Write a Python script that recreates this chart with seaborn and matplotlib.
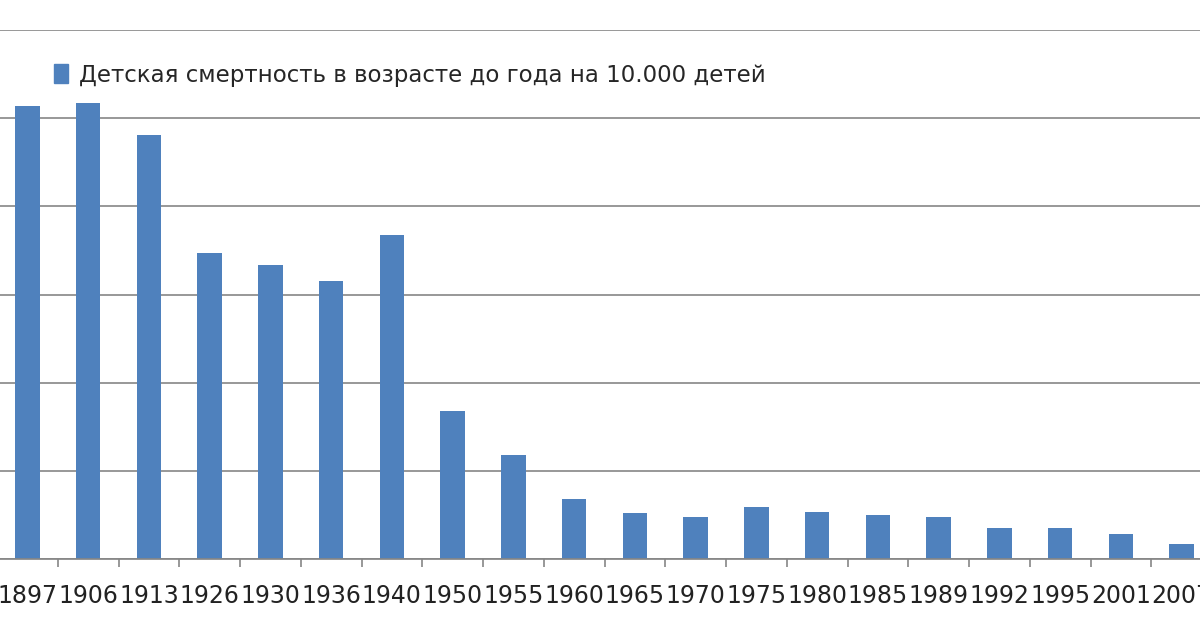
import matplotlib
matplotlib.use("Agg")
import matplotlib.pyplot as plt
import seaborn as sns
import pandas as pd
import numpy as np
from matplotlib.patches import Patch

years = ["1897","1906","1913","1926","1930","1936","1940","1950","1955","1960",
         "1965","1970","1975","1980","1985","1989","1992","1995","2001","2007"]
values = [2571,2588,2407,1733,1665,1574,1835,838,589,340,
          260,238,294,266,249,238,176,176,142,85]
label = "Детская смертность в возрасте до года на 10.000 детей"

sns.set_theme(style="white")
plt.rcParams['font.family'] = ['DejaVu Sans']
fig = plt.figure(figsize=(12, 6.3), dpi=100)
ax = fig.add_axes([-0.0025, 71/630, 1215/1200, 529/630])
df = pd.DataFrame({"year": years, "v": values})
sns.barplot(data=df, x="year", y="v", color="#4F81BD", width=0.4, ax=ax,
            saturation=1, linewidth=0)
ax.set_ylim(0, 3000)
ax.set_xlim(-0.5, len(years) - 0.5)
ax.set_yticks(np.arange(0, 3001, 500))
ax.yaxis.grid(True, color="#868686", linewidth=1.2)
ax.set_axisbelow(True)
ax.set_yticklabels([])
ax.tick_params(axis="y", length=0)
ax.set_xlabel(""); ax.set_ylabel("")
ax.tick_params(axis="x", labelsize=17, length=0, pad=18, colors="#222222")
ax.set_xticks(np.arange(-0.5, len(years), 1), minor=True)
ax.tick_params(axis="x", which="minor", length=6, color="#868686", width=1.2, bottom=True)
for s in ["top", "right"]:
    ax.spines[s].set_visible(False)
ax.spines["bottom"].set_color("#868686")
ax.spines["left"].set_color("#868686")
ax.legend(handles=[Patch(color="#4F81BD", label=label)], loc="upper left",
          bbox_to_anchor=(0.03, 0.975), frameon=False, fontsize=16.5,
          handlelength=0.6, handleheight=0.9, handletextpad=0.5)
fig.savefig("out.png", dpi=100)
